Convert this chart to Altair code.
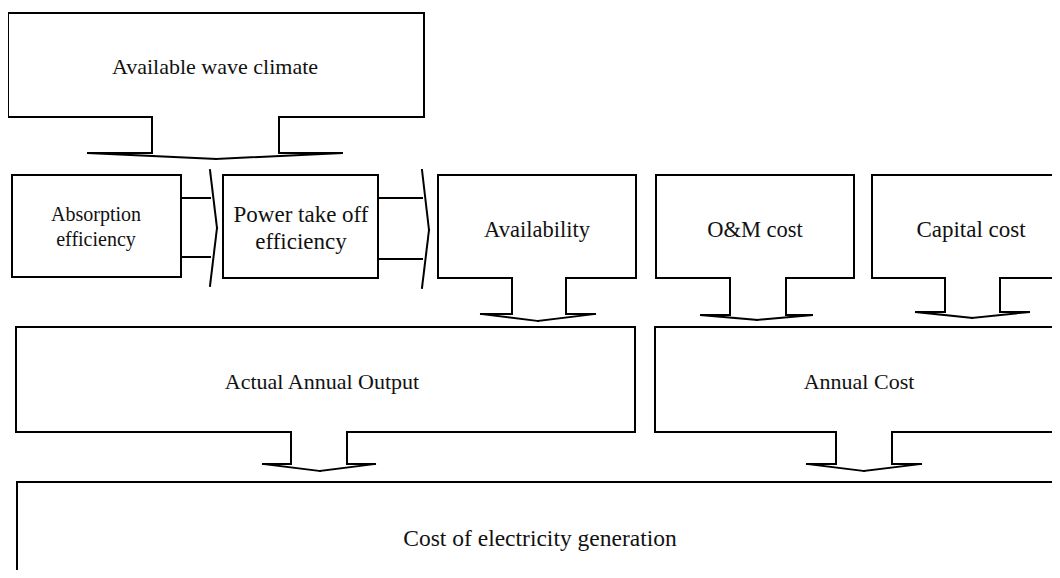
import altair as alt
import pandas as pd

# ---- Boxes (page pixel geometry) ----
box_names = ["Available wave climate", "Absorption efficiency", "Power take off efficiency",
             "Availability", "O&M cost", "Capital cost",
             "Actual Annual Output", "Annual Cost", "Cost of electricity generation"]
box_left   = [8, 12, 223, 438, 656, 872, 16, 655, 17]
box_top    = [13, 175, 175, 175, 175, 175, 327, 327, 482]
box_right  = [424, 181, 378, 636, 854, 1064, 635, 1064, 1064]
box_bottom = [117, 277, 278, 278, 278, 278, 432, 432, 600]
# opening in the bottom edge where a down-arrow leaves (None = closed)
box_open_l = [152, None, None, 512, 730, 945, 291, 836, None]
box_open_r = [279, None, None, 566, 786, 1000, 347, 892, None]
box_draw_right = [True, True, True, True, True, False, True, False, False]
box_draw_bottom = [True, True, True, True, True, True, True, True, False]

# ---- Down arrows ----
down_stem_l = [152, 512, 730, 945, 291, 836]
down_stem_r = [279, 566, 786, 1000, 347, 892]
down_top    = [117, 278, 278, 278, 432, 432]
down_base   = [153, 314, 315, 312, 464, 464]
down_head_l = [88, 481, 701, 916, 263, 807]
down_head_r = [342, 595, 812, 1029, 375, 921]
down_tip_x  = [216, 538, 757, 972, 320, 864]
down_tip_y  = [159, 321, 320, 318, 471, 471]

# ---- Right arrows ----
right_start  = [181, 378]
right_head_x = [210, 422]
right_stem_t = [198, 198]
right_stem_b = [257, 259]
right_head_t = [170, 170]
right_head_b = [286, 288]
right_tip_x  = [217, 429]
right_tip_y  = [228, 230]

# ---- Labels ----
label_text = ["Available wave climate", "Absorption", "efficiency", "Power take off", "efficiency",
              "Availability", "O&M cost", "Capital cost",
              "Actual Annual Output", "Annual Cost", "Cost of electricity generation"]
label_x    = [215, 96, 96, 301, 301, 537, 755, 971, 322, 859, 540]
label_y    = [74, 221, 246, 222, 249, 237, 237, 237, 389, 389, 546]
label_size = [22, 20, 20, 23, 23, 22.5, 22.5, 23, 22, 22, 23.5]

segs = []
def seg(x1, y1, x2, y2):
    segs.append({"x": x1, "y": y1, "x2": x2, "y2": y2})

for i in range(len(box_names)):
    L, T, R, B = box_left[i], box_top[i], box_right[i], box_bottom[i]
    seg(L, T, R, T)
    seg(L, T, L, B)
    if box_draw_right[i]:
        seg(R, T, R, B)
    if box_draw_bottom[i]:
        if box_open_l[i] is None:
            seg(L, B, R, B)
        else:
            seg(L, B, box_open_l[i], B)
            seg(box_open_r[i], B, R, B)

for i in range(len(down_stem_l)):
    seg(down_stem_l[i], down_top[i], down_stem_l[i], down_base[i])
    seg(down_stem_r[i], down_top[i], down_stem_r[i], down_base[i])
    seg(down_head_l[i], down_base[i], down_stem_l[i], down_base[i])
    seg(down_stem_r[i], down_base[i], down_head_r[i], down_base[i])
    seg(down_head_l[i], down_base[i], down_tip_x[i], down_tip_y[i])
    seg(down_tip_x[i], down_tip_y[i], down_head_r[i], down_base[i])

for i in range(len(right_start)):
    seg(right_start[i], right_stem_t[i], right_head_x[i], right_stem_t[i])
    seg(right_start[i], right_stem_b[i], right_head_x[i], right_stem_b[i])
    seg(right_head_x[i], right_head_t[i], right_tip_x[i], right_tip_y[i])
    seg(right_tip_x[i], right_tip_y[i], right_head_x[i], right_head_b[i])

seg_df = pd.DataFrame(segs)

# plot area placed at page offset (8, 8); scales map reference pixels 1:1
W, H = 1044, 562
xs = alt.Scale(domain=[8, 8 + W], nice=False, zero=False)
ys = alt.Scale(domain=[8, 8 + H], nice=False, zero=False, reverse=True)

lines = alt.Chart(seg_df).mark_rule(color="black", strokeWidth=2, strokeCap="square", clip=True).encode(
    x=alt.X("x:Q", scale=xs, axis=None),
    y=alt.Y("y:Q", scale=ys, axis=None),
    x2="x2:Q",
    y2="y2:Q",
)

text_layers = []
for i in range(len(label_text)):
    df = pd.DataFrame({"text": [label_text[i]], "x": [label_x[i]], "y": [label_y[i]]})
    text_layers.append(
        alt.Chart(df).mark_text(font="Liberation Serif", fontSize=label_size[i], color="#111111",
                                align="center", baseline="alphabetic").encode(
            x=alt.X("x:Q", scale=xs, axis=None),
            y=alt.Y("y:Q", scale=ys, axis=None),
            text="text:N",
        )
    )

chart = alt.layer(lines, *text_layers).properties(
    width=W, height=H, padding=0, background="white",
    autosize=alt.AutoSizeParams(type="none"),
).configure_view(stroke="transparent", strokeWidth=0)

chart.save("out.html", embed_options={"renderer": "svg", "actions": False})
